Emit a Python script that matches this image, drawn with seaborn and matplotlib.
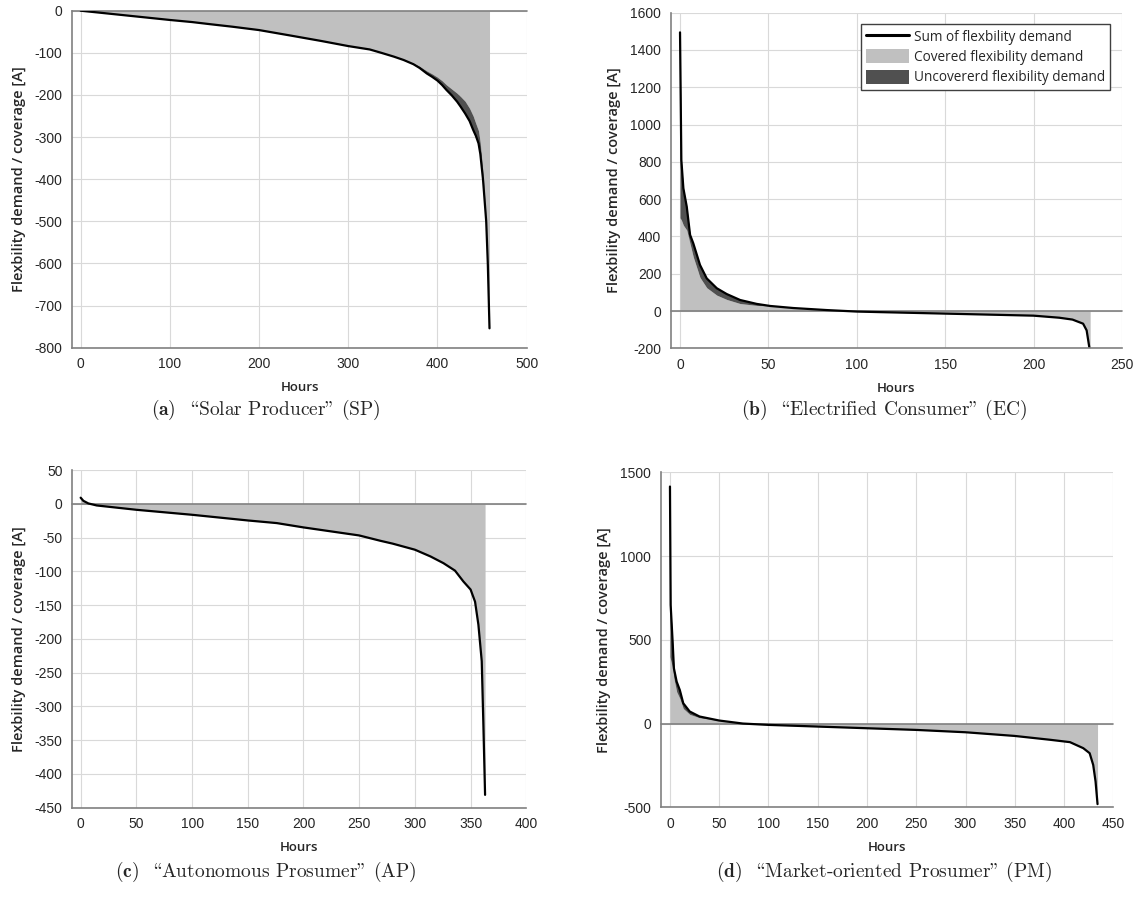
import matplotlib
matplotlib.use("Agg")
import matplotlib.pyplot as plt
import seaborn as sns
from matplotlib.lines import Line2D
from matplotlib.patches import Patch

# (a) Solar Producer
sp_hours = [0, 25, 50, 75, 100, 125, 145, 170, 200, 238, 270, 300, 324, 337, 351, 362, 373, 380, 388, 394, 400, 405, 410, 416, 422, 426, 431, 436, 440, 443, 446, 448, 451, 454.6, 456.4, 458.3]
sp_sum = [0, -5.5, -11, -16.5, -22, -27, -32, -38, -46, -60, -72, -84, -92, -100, -109, -117, -127, -136, -149, -157, -166, -176, -188, -201, -216, -228, -244, -262, -283, -297, -315, -340, -400, -500, -600, -754]
sp_cov = [0, -5.5, -11, -16.5, -22, -27, -32, -38, -46, -60, -72, -84, -92, -100, -109, -116, -125, -132, -143, -150, -158, -166, -176, -186, -196, -204, -215, -232, -250, -268, -285, -315, -385, -495, -600, -754]

# (b) Electrified Consumer
ec_hours = [0, 0.75, 1.9, 3.8, 5.7, 7.5, 11.3, 15.1, 20.8, 26.4, 34, 43.4, 51, 64, 83, 100, 113, 150, 200, 214.5, 222, 228, 230, 231.6, 232]
ec_sum = [1494, 810, 658, 560, 408, 363, 247, 175, 122, 91, 59, 38, 27, 16, 5, -3, -6, -14, -25, -36, -46, -68, -104, -200, -215]
ec_cov = [500, 488, 460, 434, 360, 290, 180, 125, 85, 62, 40, 30, 27, 16, 5, -3, -6, -14, -25, -36, -46, -68, -104, -200, -215]

# (c) Autonomous Prosumer
ap_hours = [0, 2.4, 6.9, 14.4, 50, 100, 150, 176, 200, 221, 250, 269, 280, 290, 300, 314, 325.6, 336, 343.5, 350, 354, 357, 360, 361.4, 363]
ap_sum = [9, 4.4, 0.5, -2.5, -8.9, -16.3, -24.7, -28.6, -35, -40, -46.9, -54.8, -59, -63.5, -68, -78, -87.9, -99, -115, -127, -145, -179, -233, -322, -431]
ap_cov = ap_sum

# (d) Market-oriented Prosumer
pm_hours = [0, 0.7, 2.7, 4, 6.8, 10, 13.5, 20, 30, 50, 74, 100, 150, 200, 250, 300, 350, 386, 406, 419.5, 426, 429.6, 432, 434]
pm_sum = [1415, 708, 489, 330, 250, 200, 121, 72, 42, 18, 0, -8, -18, -28, -38, -52, -74, -97, -111, -147, -177, -247, -346, -481]
pm_cov = [400, 380, 330, 270, 190, 150, 90, 55, 35, 18, 0, -8, -18, -28, -38, -52, -74, -97, -111, -147, -177, -247, -346, -481]

# cmr10 uses TeX layout: backslash = opening quotes, " = closing quotes
captions = [r'$\mathbf{(a)}$  \Solar Producer" (SP)',
            r'$\mathbf{(b)}$  \Electrified Consumer" (EC)',
            r'$\mathbf{(c)}$  \Autonomous Prosumer" (AP)',
            r'$\mathbf{(d)}$  \Market-oriented Prosumer" (PM)']

sns.set_style("whitegrid")
plt.rcParams['font.family'] = ['Liberation Sans', 'DejaVu Sans']
plt.rcParams['axes.unicode_minus'] = False
plt.rcParams['mathtext.fontset'] = 'cm'

W, H = 1148, 898
fig = plt.figure(figsize=(W / 100, H / 100), dpi=100)

def rect(l, r, t, b):
    return [l / W, 1 - b / H, (r - l) / W, (b - t) / H]

panels = [
    dict(pos=rect(72.3, 526.7, 10.7, 347.7), x=sp_hours, s=sp_sum, c=sp_cov,
         xlim=(-9.4, 500), xt=range(0, 501, 100), ylim=(-800, 0), yt=range(-800, 1, 100), lab=-0.102),
    dict(pos=rect(671, 1122, 12.6, 348.3), x=ec_hours, s=ec_sum, c=ec_cov,
         xlim=(-5.1, 250), xt=range(0, 251, 50), ylim=(-200, 1600), yt=range(-200, 1601, 200), lab=-0.111),
    dict(pos=rect(72.3, 526.3, 470, 807.7), x=ap_hours, s=ap_sum, c=ap_cov,
         xlim=(-7.5, 400), xt=range(0, 401, 50), ylim=(-450, 50), yt=range(-450, 51, 50), lab=-0.102),
    dict(pos=rect(661, 1113.3, 472.3, 807.3), x=pm_hours, s=pm_sum, c=pm_cov,
         xlim=(-9.1, 450), xt=range(0, 451, 50), ylim=(-500, 1500), yt=range(-500, 1501, 500), lab=-0.111),
]

light = '#c0c0c0'
dark = '#505050'
axcol = '#808080'

for i, p in enumerate(panels):
    ax = fig.add_axes(p['pos'])
    ax.set_axisbelow(True)
    ax.grid(True, color='#d9d9d9', lw=0.8)
    ax.fill_between(p['x'], 0, p['c'], color=light, lw=0)
    ax.fill_between(p['x'], p['c'], p['s'], color=dark, lw=0)
    ax.axhline(0, color=axcol, lw=1.2, clip_on=False)
    sns.lineplot(x=p['x'], y=p['s'], ax=ax, color='black', lw=1.6, estimator=None, sort=False)
    ax.set_xlim(*p['xlim'])
    ax.set_ylim(*p['ylim'])
    ax.set_xticks(list(p['xt']))
    ax.set_yticks(list(p['yt']))
    for side in ['top', 'right']:
        ax.spines[side].set_visible(False)
    for side in ['left', 'bottom']:
        ax.spines[side].set_color(axcol)
        ax.spines[side].set_linewidth(1.2)
    ax.tick_params(axis='both', direction='out', length=4, width=1, color='#404040',
                   labelsize=10, labelcolor='#262626', pad=3)
    ax.set_xlabel('Hours', family='Open Sans', weight='semibold', fontsize=9.5, color='#262626')
    ax.set_ylabel('Flexbility demand / coverage [A]', family='Open Sans', weight='semibold',
                  fontsize=10.5, color='#262626')
    ax.xaxis.set_label_coords(0.5, -0.1)
    ax.yaxis.set_label_coords(p['lab'], 0.5)

    if i == 1:
        handles = [Line2D([], [], color='black', lw=2.2),
                   Patch(facecolor=light, edgecolor='none'),
                   Patch(facecolor=dark, edgecolor='none')]
        leg = ax.legend(handles, ['Sum of flexbility demand', 'Covered flexibility demand',
                                  'Uncovererd flexibility demand'],
                        loc='upper right', bbox_to_anchor=(0.9734, 0.965), borderaxespad=0,
                        fancybox=False, framealpha=1, edgecolor='#404040',
                        prop=dict(family='Open Sans', size=9.8), handlelength=3.2,
                        handleheight=1.2, handletextpad=0.35, labelspacing=0.35, borderpad=0.35)
        leg.get_frame().set_linewidth(1)

cap_x = [266 / W, 884 / W, 266 / W, 884 / W]
cap_y = [1 - 410 / H, 1 - 410 / H, 1 - 872 / H, 1 - 872 / H]
for cx, cy, t in zip(cap_x, cap_y, captions):
    fig.text(cx, cy, t, ha='center', va='center', fontsize=14, family='cmr10')

fig.savefig('out.png', dpi=100)
